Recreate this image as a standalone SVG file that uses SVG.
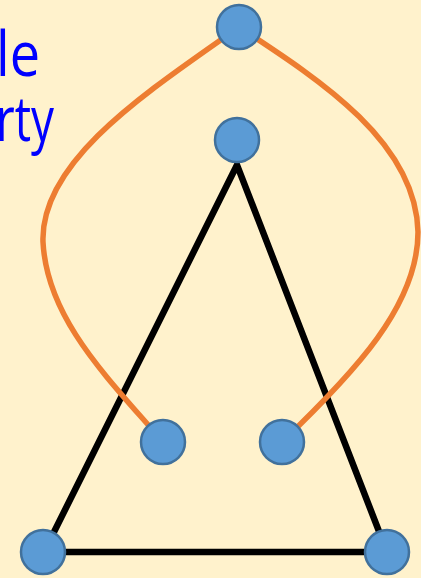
<svg xmlns="http://www.w3.org/2000/svg" width="421" height="578" viewBox="0 0 421 578">
<style>
.node{fill:#5B9BD5;stroke:#41719C;stroke-width:2.5}
.tri{fill:none;stroke:#000;stroke-width:6.5;stroke-linejoin:miter}
.arc{fill:none;stroke:#ED7D31;stroke-width:5.5}
.lbl{font-family:"Open Sans","Noto Sans",sans-serif;font-size:62px;fill:#0000FF}
</style>
<rect width="421" height="578" fill="#FFF2CC"/>
<text class="lbl" x="-4" y="76" textLength="44" lengthAdjust="spacingAndGlyphs">le</text>
<text class="lbl" x="-4" y="141" textLength="58" lengthAdjust="spacingAndGlyphs">rty</text>
<g id="connectors">
<path class="tri" d="M237,165 L44,552 L387,552 Z"/>
<path class="arc" d="M239,27 C150,90 40,160 43,242 C47,320 110,380 163,442"/>
<path class="arc" d="M239,27 C320,80 416,142 418,232 C418,305 355,372 282,442"/>
</g>
<g id="n-top"><circle class="node" cx="239" cy="27" r="22"/></g>
<g id="n-apex"><circle class="node" cx="237" cy="140" r="22"/></g>
<g id="n-inner-left"><circle class="node" cx="163" cy="442" r="22"/></g>
<g id="n-inner-right"><circle class="node" cx="282" cy="442" r="22"/></g>
<g id="n-bottom-left"><circle class="node" cx="43" cy="552" r="22"/></g>
<g id="n-bottom-right"><circle class="node" cx="387" cy="552" r="22"/></g>
</svg>
